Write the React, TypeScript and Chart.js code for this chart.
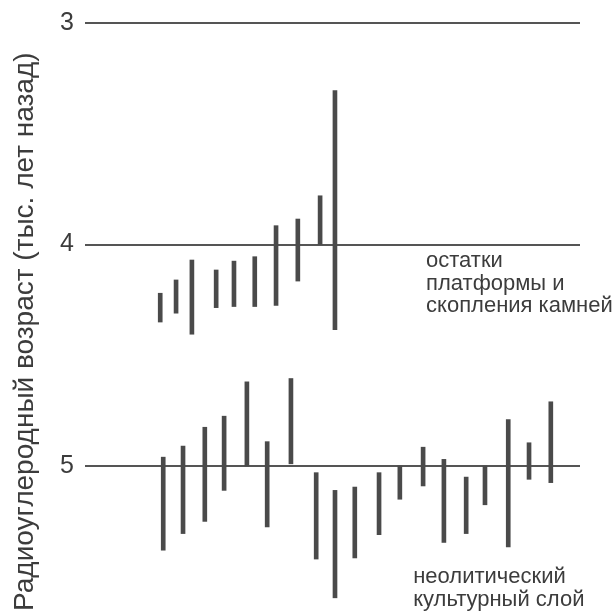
import React, { useEffect, useRef } from "react";
import { Chart, registerables } from "chart.js";

Chart.register(...registerables);

// Upper group: platform remains and stone clusters (x position, younger end, older end; thousand years BP)
const upperX = [15.6, 18.8, 22.0, 26.9, 30.5, 34.7, 39.0, 43.4, 47.9, 50.9];
const upperFrom = [4.22, 4.16, 4.07, 4.115, 4.075, 4.055, 3.915, 3.885, 3.78, 3.305];
const upperTo = [4.35, 4.31, 4.405, 4.285, 4.28, 4.28, 4.275, 4.165, 4.0, 4.385];

// Lower group: Neolithic cultural layer
const lowerX = [15.4, 19.4, 23.8, 27.7, 32.3, 36.4, 41.2, 46.3, 50.1, 54.1, 59.0, 63.2, 67.9, 72.1, 76.6, 80.4, 85.1, 89.3, 93.7];
const lowerFrom = [4.96, 4.91, 4.825, 4.775, 4.62, 4.89, 4.605, 5.03, 5.11, 5.095, 5.03, 5.0, 4.915, 4.97, 5.05, 5.0, 4.79, 4.895, 4.71];
const lowerTo = [5.38, 5.305, 5.25, 5.11, 5.0, 5.275, 4.99, 5.42, 5.595, 5.415, 5.31, 5.15, 5.09, 5.345, 5.305, 5.175, 5.365, 5.06, 5.075];

const yTicks = [3, 4, 5];
const yTitle = "Радиоуглеродный возраст (тыс. лет назад)";

const noteUpperLines = ["остатки", "платформы и", "скопления камней"];
const noteUpperX = 68.9;
const noteUpperY = [4.1, 4.205, 4.303];
const noteLowerLines = ["неолитический", "культурный слой"];
const noteLowerX = 66.3;
const noteLowerY = [5.53, 5.63];

const FONT = "'Liberation Sans', Arial, sans-serif";
const INK = "#3c3c3c";
const LINE = "#555555";

const notesPlugin = {
  id: "notes",
  afterDraw(chart: any) {
    const { ctx, scales, chartArea } = chart;
    const x = scales.x;
    const y = scales.y;
    ctx.save();
    ctx.fillStyle = INK;
    ctx.font = `22px ${FONT}`;
    ctx.textAlign = "left";
    ctx.textBaseline = "alphabetic";
    noteUpperLines.forEach((t, i) => {
      ctx.fillText(t, x.getPixelForValue(noteUpperX), y.getPixelForValue(noteUpperY[i]));
    });
    noteLowerLines.forEach((t, i) => {
      ctx.fillText(t, x.getPixelForValue(noteLowerX), y.getPixelForValue(noteLowerY[i]));
    });
    // axis title, rotated, reading bottom-to-top
    ctx.font = `28px ${FONT}`;
    ctx.translate(25, chartArea.bottom + 1);
    ctx.rotate(-Math.PI / 2);
    ctx.textBaseline = "middle";
    ctx.textAlign = "left";
    ctx.fillText(yTitle, 0, 0);
    ctx.restore();
  },
};

export default function App() {
  const ref = useRef<HTMLCanvasElement | null>(null);

  useEffect(() => {
    document.body.style.margin = "0";
    const canvas = ref.current;
    if (!canvas) return;
    const mk = (xs: number[], from: number[], to: number[]) =>
      xs.map((x, i) => ({ x, y: [from[i], to[i]] }));
    const chart = new Chart(canvas, {
      type: "bar",
      data: {
        datasets: [
          {
            data: mk(upperX, upperFrom, upperTo) as any,
            backgroundColor: "#4a4a4a",
            barThickness: 4,
            borderWidth: 0,
          },
          {
            data: mk(lowerX, lowerFrom, lowerTo) as any,
            backgroundColor: "#4a4a4a",
            barThickness: 4,
            borderWidth: 0,
          },
        ],
      },
      options: {
        animation: false,
        responsive: false,
        maintainAspectRatio: false,
        layout: { padding: { top: 23, right: 36, bottom: 1, left: 0 } },
        plugins: { legend: { display: false }, tooltip: { enabled: false } },
        scales: {
          x: {
            type: "linear",
            min: 0,
            max: 100,
            display: false,
            offset: false,
            grouped: false,
          } as any,
          y: {
            type: "linear",
            reverse: true,
            min: 3,
            max: 5.65,
            border: { display: false },
            grid: { color: LINE, lineWidth: 2, drawTicks: false },
            afterBuildTicks: (s: any) => {
              s.ticks = yTicks.map((v) => ({ value: v }));
            },
            afterFit: (s: any) => {
              s.width = 85;
              s.paddingTop = 0;
              s.paddingBottom = 0;
            },
            ticks: {
              color: INK,
              font: { family: FONT, size: 25 },
              padding: 11,
              callback: (v: any) => String(v),
            },
          },
        },
      },
      plugins: [notesPlugin],
    });
    return () => chart.destroy();
  }, []);

  return (
    <div style={{ width: 616, height: 611, background: "#fff" }}>
      <canvas ref={ref} width={616} height={611} style={{ display: "block" }} />
    </div>
  );
}
